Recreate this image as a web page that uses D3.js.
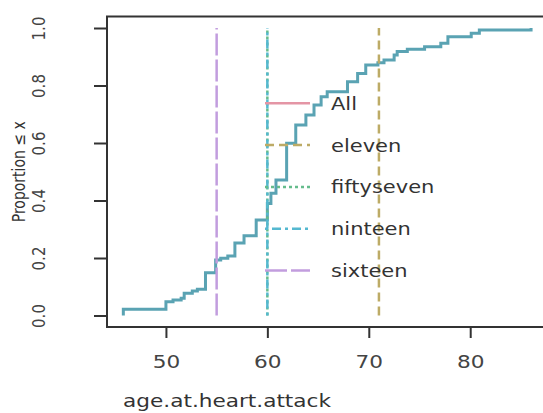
<!DOCTYPE html>
<html><head><meta charset="utf-8">
<script src="https://cdn.jsdelivr.net/npm/d3@7"></script>
<style>body{margin:0;background:#fff}</style></head>
<body>
<script>
// ECDF of age.at.heart.attack ("All"): step locations and cumulative proportions
const stepAges  = [45.8, 50.0, 50.7, 51.5, 51.8, 52.6, 53.1, 53.9, 54.9, 55.4, 56.1, 56.8, 57.7, 58.9,
                   60.0, 60.35, 60.85, 61.9, 62.8, 63.8, 64.6, 65.3, 65.9, 67.9, 68.9, 69.7, 70.9, 71.5,
                   72.5, 72.8, 73.8, 75.5, 77.1, 77.8, 80.1, 80.9, 86.0];
const stepProps = [0.022, 0.048, 0.054, 0.060, 0.077, 0.085, 0.091, 0.149, 0.193, 0.199, 0.207, 0.252, 0.277, 0.332,
                   0.390, 0.425, 0.471, 0.599, 0.663, 0.697, 0.732, 0.761, 0.778, 0.813, 0.842, 0.871, 0.879, 0.889,
                   0.906, 0.918, 0.926, 0.935, 0.947, 0.970, 0.982, 0.993, 1.0];
const groupNames  = ["All", "eleven", "fiftyseven", "ninteen", "sixteen"];
const groupValues = [null, 71, 60, 60, 55];
const groupColors = ["#E495A5", "#BDAB66", "#65BC8C", "#55B8D0", "#C29DDE"];
const groupDash   = [null, "9,5", "3,3", "3,4,9,4", "22,4"];
const xTicks = [50, 60, 70, 80];
const yTicks = [0, 0.2, 0.4, 0.6, 0.8, 1.0];
const xTitle = "age.at.heart.attack";
const yTitle = "Proportion \u2264 x";

const W = 543, H = 413;
const svg = d3.select("body").append("svg").attr("width", W).attr("height", H)
  .style("font-family", "'DejaVu Sans', Verdana, sans-serif");

const x = d3.scaleLinear().domain([44.19, 87.61]).range([107, 547.4]);
const y = d3.scaleLinear().domain([-0.04, 1.04]).range([327, 16.5]);
const SX = 1.2; // horizontal stretch of the reference

// curve
const pts = [[stepAges[0], 0]].concat(stepAges.map((a, i) => [a, stepProps[i]]));
const line = d3.line().x(d => x(d[0])).y(d => y(d[1])).curve(d3.curveStepAfter);
svg.append("path").attr("d", line(pts)).attr("fill", "none")
  .attr("stroke", "#5AA3B3").attr("stroke-width", 3);

// single-value groups: vertical ECDF lines
groupNames.forEach((g, i) => {
  if (groupValues[i] == null) return;
  svg.append("line")
    .attr("x1", x(groupValues[i])).attr("x2", x(groupValues[i]))
    .attr("y1", y(0)).attr("y2", y(1))
    .attr("stroke", groupColors[i]).attr("stroke-width", 2.5)
    .attr("stroke-dasharray", groupDash[i]);
});

// box
svg.append("rect").attr("x", x.range()[0]).attr("y", y.range()[1])
  .attr("width", x.range()[1] - x.range()[0]).attr("height", y.range()[0] - y.range()[1])
  .attr("fill", "none").attr("stroke", "#333").attr("stroke-width", 2);

// x axis
const xAxis = d3.axisBottom(x).tickValues(xTicks).tickSize(11).tickPadding(0).tickFormat(d3.format("d"));
const gx = svg.append("g").attr("transform", `translate(0,${y.range()[0]})`).call(xAxis);
gx.select(".domain").remove();
gx.selectAll(".tick line").attr("stroke", "#333").attr("stroke-width", 2);
gx.selectAll(".tick text").attr("y", null).attr("dy", null)
  .attr("transform", `translate(0,41) scale(${SX},1)`)
  .attr("fill", "#444").style("font-size", "18px").style("font-family", "'DejaVu Sans', Verdana, sans-serif");

// y axis
const yAxis = d3.axisLeft(y).tickValues(yTicks).tickSize(13).tickPadding(0).tickFormat(d3.format(".1f"));
const gy = svg.append("g").attr("transform", `translate(${x.range()[0]},0)`).call(yAxis);
gy.select(".domain").remove();
gy.selectAll(".tick line").attr("stroke", "#333").attr("stroke-width", 2);
gy.selectAll(".tick text").attr("x", null).attr("dy", null)
  .attr("transform", `translate(-62,0) scale(${SX},1) rotate(-90)`)
  .attr("text-anchor", "middle")
  .attr("fill", "#444").style("font-size", "15px").style("font-family", "'DejaVu Sans', Verdana, sans-serif");

// titles
svg.append("text").attr("transform", `translate(${(123 + 331) / 2},407) scale(${SX},1)`)
  .attr("text-anchor", "middle").attr("fill", "#333").style("font-size", "18px").text(xTitle);
svg.append("text").attr("transform", `translate(25,${y(0.5)}) scale(${SX},1) rotate(-90)`)
  .attr("text-anchor", "middle").attr("fill", "#333").style("font-size", "14px").text(yTitle);

// legend
const lg = svg.append("g");
groupNames.forEach((g, i) => {
  const ly = 103.3 + i * 41.8;
  lg.append("line").attr("x1", 265).attr("x2", 310).attr("y1", ly).attr("y2", ly)
    .attr("stroke", groupColors[i]).attr("stroke-width", 2.5)
    .attr("stroke-dasharray", groupDash[i]);
  lg.append("text").attr("transform", `translate(331,${ly + 6.5}) scale(${SX},1)`)
    .attr("fill", "#333").style("font-size", "17.5px").text(g);
});
</script>
</body></html>
